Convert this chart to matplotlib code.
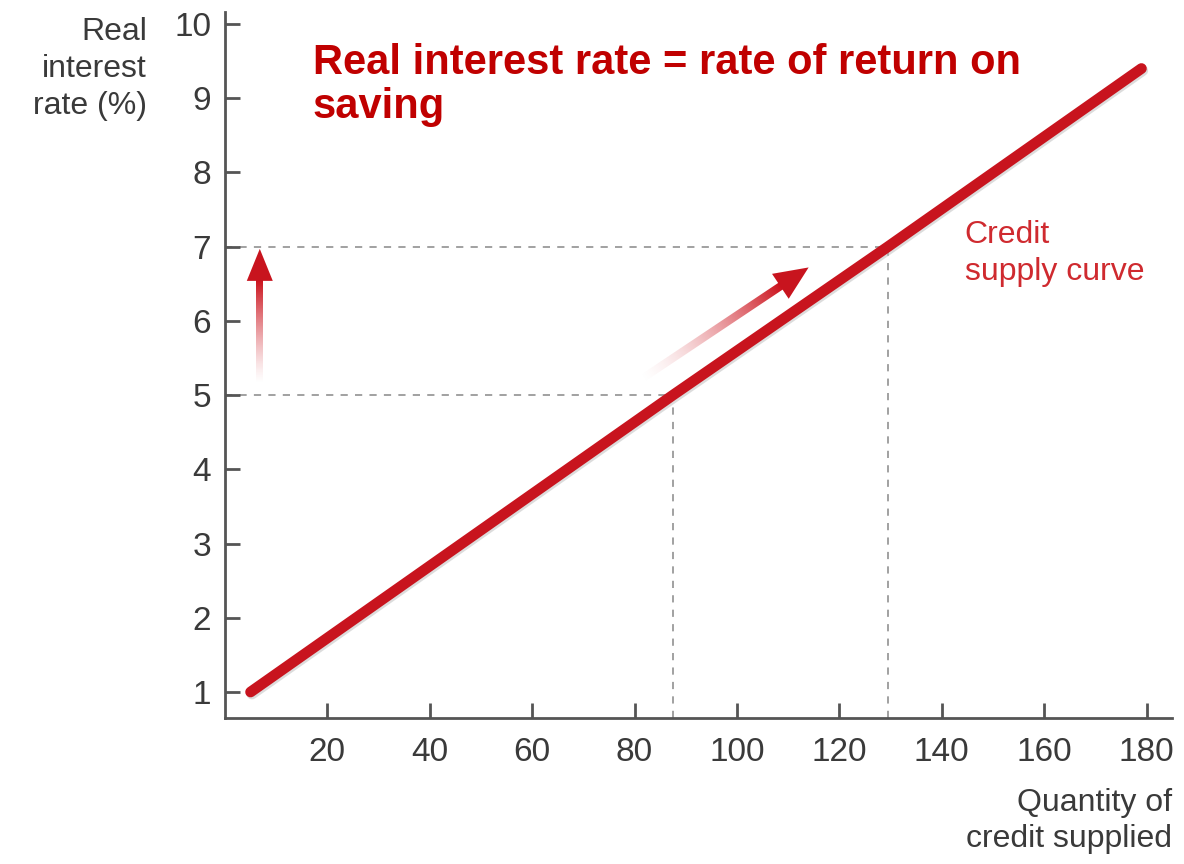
import matplotlib.pyplot as plt
import numpy as np
from matplotlib.patches import Polygon
import matplotlib.patheffects as pe

plt.rcParams['font.family'] = ['Liberation Sans', 'DejaVu Sans']

# credit supply curve: quantity vs real interest rate
quantity = [5, 87.5, 129.5, 179]
rate = [1, 5, 7, 9.4]

# the two marked rates and their quantities
marked_rate = [5, 7]
marked_qty = [87.5, 129.5]

x_ticks = [20, 40, 60, 80, 100, 120, 140, 160, 180]
y_ticks = [1, 2, 3, 4, 5, 6, 7, 8, 9, 10]

red = '#c8141e'
grey_txt = '#3a3a3a'

fig = plt.figure(figsize=(11.84, 8.64), dpi=100)
ax = fig.add_axes([0.190, 0.169, 0.800, 0.817])
ax.set_xlim(0, 185)
ax.set_ylim(0.65, 10.16)

# dashed guides
for q, r in zip(marked_qty, marked_rate):
    ax.plot([0, q], [r, r], ls=(0, (4, 4)), color='#9a9a9a', lw=1.3, zorder=1)
    ax.plot([q, q], [0.65, r], ls=(0, (4, 4)), color='#9a9a9a', lw=1.3, zorder=1)

# supply line
ax.plot(quantity, rate, color=red, lw=7.7, solid_capstyle='round', zorder=3,
        path_effects=[pe.SimpleLineShadow(offset=(1, -1.5), shadow_color='#bbbbbb', alpha=0.5),
                      pe.Normal()])


def fade_arrow(x0, y0, x1, y1, width=7, head_len=32, hw=14, power=1.3):
    # shaft fades in from transparent (gradient image clipped to the shaft), solid head
    p0 = ax.transData.transform((x0, y0))
    p1 = ax.transData.transform((x1, y1))
    d = p1 - p0
    u = d / np.hypot(*d)
    nrm = np.array([-u[1], u[0]])
    base = p1 - u * head_len
    w = width / 2
    shaft = np.array([p0 + nrm * w, base + u * 2 + nrm * w,
                      base + u * 2 - nrm * w, p0 - nrm * w])
    inv = ax.transData.inverted()
    shaft_d = inv.transform(shaft)
    poly = Polygon(shaft_d, closed=True, facecolor='none', edgecolor='none',
                   transform=ax.transData)
    ax.add_patch(poly)

    # gradient over the shaft's bounding box, in display pixels
    xs = np.arange(shaft[:, 0].min() - 2, shaft[:, 0].max() + 2, 0.5)
    ys = np.arange(shaft[:, 1].min() - 2, shaft[:, 1].max() + 2, 0.5)
    gx, gy = np.meshgrid(xs, ys)
    t = ((gx - p0[0]) * u[0] + (gy - p0[1]) * u[1]) / np.dot(base - p0, u)
    alpha = np.clip(t, 0, 1) ** power
    img = np.zeros(gx.shape + (4,))
    img[..., 0], img[..., 1], img[..., 2] = 0.8, 0.08, 0.12
    img[..., 3] = alpha
    lo = inv.transform((xs[0], ys[0]))
    hi = inv.transform((xs[-1], ys[-1]))
    im = ax.imshow(img, origin='lower', extent=[lo[0], hi[0], lo[1], hi[1]],
                   aspect='auto', zorder=4, interpolation='bilinear')
    im.set_clip_path(poly)

    head = inv.transform(np.array([p1, base + nrm * hw, base - nrm * hw]))
    ax.add_patch(Polygon(head, closed=True, color=red, zorder=4, lw=0))


fig.canvas.draw()
fade_arrow(6.8, 5.15, 6.8, 6.97, width=7, head_len=32, hw=13)
fade_arrow(81, 5.2, 114, 6.72, width=8, head_len=34, hw=15, power=1.6)
ax.set_xlim(0, 185)
ax.set_ylim(0.65, 10.16)

# axes styling
for s in ['top', 'right']:
    ax.spines[s].set_visible(False)
for s in ['left', 'bottom']:
    ax.spines[s].set_color('#555555')
    ax.spines[s].set_linewidth(2)
ax.set_xticks(x_ticks)
ax.set_yticks(y_ticks)
ax.tick_params(axis='both', direction='in', length=11, width=2, color='#555555',
               labelsize=24, labelcolor=grey_txt)
ax.tick_params(axis='x', pad=14)
ax.tick_params(axis='y', pad=10)

fig.text(147 / 1184, 1 - 69 / 864, 'Real\ninterest\nrate (%)', ha='right', va='center',
         fontsize=23, color=grey_txt, linespacing=1.3)
fig.text(1172 / 1184, 1 - 821 / 864, 'Quantity of\ncredit supplied', ha='right', va='center',
         fontsize=23, color=grey_txt, linespacing=1.3)
fig.text(313 / 1184, 1 - 85 / 864, 'Real interest rate = rate of return on\nsaving',
         ha='left', va='center', fontsize=30, fontweight='bold', color='#c00000',
         linespacing=1.15)
ax.text(144.5, 6.91, 'Credit\nsupply curve', ha='left', va='center', fontsize=23,
        color='#cf2a2f', linespacing=1.3)

fig.savefig('out.png', dpi=100)
